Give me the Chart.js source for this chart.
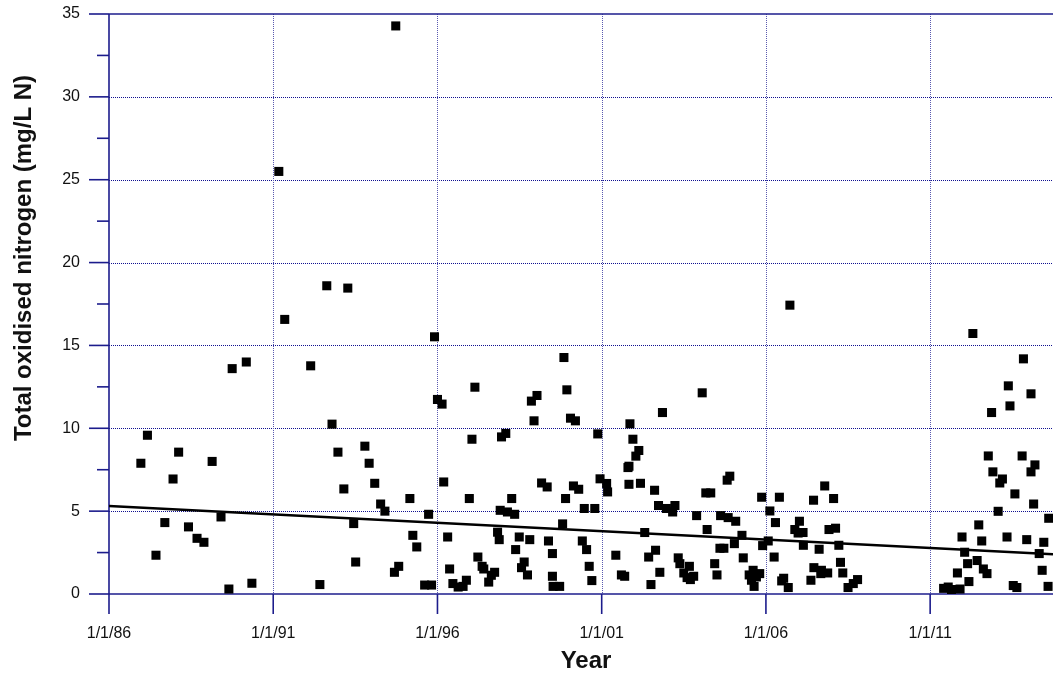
<!DOCTYPE html>
<html>
<head>
<meta charset="utf-8">
<title>Total oxidised nitrogen</title>
<script src="https://cdn.jsdelivr.net/npm/chart.js@4"></script>
<style>
  body { margin: 0; background: #fff; }
  #wrap { width: 1053px; height: 673px; }
</style>
</head>
<body>
<div id="wrap"><canvas id="myChart" width="1053" height="673"></canvas></div>
<script>
// sample dates (decimal years) and TON values
var sampleYears = [
  1986.97, 1987.17, 1987.43, 1987.70, 1987.95, 1988.12, 1988.42, 1988.68, 1988.89, 1989.14,
  1989.41, 1989.65, 1989.75, 1990.18, 1990.35, 1991.17, 1991.35, 1992.14, 1992.42, 1992.63,
  1992.79, 1992.97, 1993.15, 1993.27, 1993.45, 1993.51, 1993.79, 1993.92, 1994.09, 1994.27,
  1994.40, 1994.69, 1994.73, 1994.82, 1995.16, 1995.25, 1995.37, 1995.61, 1995.73, 1995.82,
  1995.91, 1996.00, 1996.14, 1996.19, 1996.31, 1996.37, 1996.47, 1996.63, 1996.78, 1996.88,
  1996.97, 1997.05, 1997.14, 1997.23, 1997.36, 1997.41, 1997.56, 1997.64, 1997.74, 1997.83,
  1997.88, 1997.91, 1997.95, 1998.08, 1998.13, 1998.26, 1998.35, 1998.38, 1998.49, 1998.56,
  1998.64, 1998.74, 1998.81, 1998.86, 1998.94, 1999.03, 1999.17, 1999.34, 1999.38, 1999.50,
  1999.50, 1999.52, 1999.72, 1999.81, 1999.85, 1999.90, 1999.94, 2000.05, 2000.14, 2000.20,
  2000.30, 2000.41, 2000.47, 2000.54, 2000.62, 2000.70, 2000.79, 2000.88, 2000.95, 2001.15,
  2001.18, 2001.43, 2001.60, 2001.70, 2001.80, 2001.83, 2001.83, 2001.86, 2001.95, 2002.04,
  2002.13, 2002.18, 2002.31, 2002.43, 2002.50, 2002.61, 2002.64, 2002.73, 2002.77, 2002.85,
  2002.97, 2003.16, 2003.23, 2003.33, 2003.38, 2003.50, 2003.60, 2003.67, 2003.70, 2003.80,
  2003.89, 2004.06, 2004.17, 2004.21, 2004.32, 2004.44, 2004.51, 2004.60, 2004.62, 2004.72,
  2004.82, 2004.85, 2004.90, 2005.04, 2005.08, 2005.27, 2005.31, 2005.49, 2005.56, 2005.61,
  2005.64, 2005.71, 2005.81, 2005.87, 2005.90, 2006.07, 2006.12, 2006.25, 2006.29, 2006.41,
  2006.48, 2006.54, 2006.68, 2006.73, 2006.88, 2006.98, 2007.02, 2007.13, 2007.14, 2007.37,
  2007.45, 2007.46, 2007.62, 2007.67, 2007.69, 2007.79, 2007.88, 2007.92, 2008.06, 2008.12,
  2008.22, 2008.27, 2008.34, 2008.50, 2008.66, 2008.79, 2011.41, 2011.55, 2011.65, 2011.83,
  2011.91, 2011.97, 2012.05, 2012.14, 2012.18, 2012.30, 2012.43, 2012.48, 2012.57, 2012.62,
  2012.73, 2012.77, 2012.87, 2012.91, 2013.07, 2013.12, 2013.20, 2013.34, 2013.38, 2013.43,
  2013.53, 2013.58, 2013.64, 2013.80, 2013.84, 2013.94, 2014.07, 2014.07, 2014.15, 2014.19,
  2014.32, 2014.41, 2014.46, 2014.59, 2014.61
];
var tonValues = [
  7.89, 9.58, 2.34, 4.31, 6.94, 8.56, 4.05, 3.36, 3.12, 8.00,
  4.65, 0.30, 13.6, 14.0, 0.65, 25.5, 16.57, 13.77, 0.57, 18.6,
  10.25, 8.56, 6.34, 18.46, 4.25, 1.93, 8.92, 7.89, 6.68, 5.43,
  5.00, 1.31, 34.28, 1.67, 5.76, 3.54, 2.84, 0.54, 4.81, 0.54,
  15.52, 11.74, 11.46, 6.76, 3.44, 1.51, 0.63, 0.42, 0.46, 0.83,
  5.76, 9.34, 12.48, 2.23, 1.67, 1.51, 0.72, 1.13, 1.31, 3.73,
  3.28, 5.05, 9.48, 9.69, 4.95, 5.76, 4.81, 2.68, 3.44, 1.59,
  1.93, 1.15, 3.28, 11.64, 10.45, 11.98, 6.70, 6.46, 3.20, 2.44,
  1.07, 0.46, 0.46, 4.23, 14.27, 5.76, 12.32, 10.61, 6.52, 10.45,
  6.32, 3.20, 5.16, 2.68, 1.67, 0.81, 5.16, 9.66, 6.95, 6.67,
  6.16, 2.34, 1.15, 1.07, 7.63, 7.71, 6.62, 10.27, 9.34, 8.32,
  8.66, 6.68, 3.71, 2.23, 0.57, 6.26, 2.64, 5.34, 1.31, 10.95,
  5.16, 4.95, 5.34, 2.18, 1.83, 1.27, 0.99, 1.67, 0.87, 1.07,
  4.73, 12.14, 6.10, 3.89, 6.10, 1.83, 1.15, 2.76, 4.73, 2.76,
  6.87, 4.61, 7.11, 3.04, 4.39, 3.54, 2.18, 1.15, 0.83, 1.43,
  0.46, 1.03, 1.23, 5.84, 2.92, 3.20, 5.01, 2.23, 4.31, 5.84,
  0.79, 0.95, 0.39, 17.43, 3.89, 3.68, 4.39, 3.71, 2.94, 0.83,
  5.66, 1.59, 2.70, 1.23, 1.43, 6.52, 1.27, 3.89, 5.76, 3.97,
  2.94, 1.91, 1.27, 0.39, 0.63, 0.87, 0.34, 0.42, 0.27, 1.27,
  0.30, 3.44, 2.52, 1.83, 0.75, 15.72, 2.02, 4.17, 3.20, 1.51,
  1.23, 8.33, 10.95, 7.37, 4.99, 6.70, 6.94, 3.44, 12.56, 11.35,
  0.51, 6.04, 0.39, 8.33, 14.19, 3.28, 12.08, 7.37, 5.43, 7.79,
  2.44, 1.43, 3.12, 0.46, 4.57
];

// linear trend, end points
var trendYears = [1986.0, 2014.74];
var trendValues = [5.31, 2.40];

// axis ticks
var tickYears = [1986, 1991, 1996, 2001, 2006, 2011];
var tickLabels = ["1/1/86", "1/1/91", "1/1/96", "1/1/01", "1/1/06", "1/1/11"];
var yMajor = [0, 5, 10, 15, 20, 25, 30, 35];
var yMinor = [2.5, 7.5, 12.5, 17.5, 22.5, 27.5, 32.5];

var xTitle = "Year";
var yTitle = "Total oxidised nitrogen (mg/L N)";

var axisBlue = "#1c1c8c";
var fontFam = "Liberation Sans, Arial, Helvetica, sans-serif";

// grid, axis lines and tick marks in the old-style plot look
var framePlugin = {
  id: "frame",
  beforeDatasetsDraw: function (chart) {
    var c = chart.ctx;
    var a = chart.chartArea;
    var xs = chart.scales.x;
    var ys = chart.scales.y;
    function seg(x1, y1, x2, y2) {
      c.beginPath();
      c.moveTo(x1, y1);
      c.lineTo(x2, y2);
      c.stroke();
    }
    c.save();
    // dotted grid
    c.strokeStyle = "#101090";
    c.lineWidth = 1;
    c.setLineDash([1, 1]);
    yMajor.forEach(function (v) {
      if (v > 0 && v < 35) {
        var py = Math.round(ys.getPixelForValue(v)) + 0.5;
        seg(a.left, py, a.right, py);
      }
    });
    c.strokeStyle = "#5a5ab0";
    tickYears.forEach(function (v) {
      if (v > xs.min) {
        var px = Math.round(xs.getPixelForValue(v)) + 0.5;
        seg(px, a.top, px, a.bottom);
      }
    });
    c.setLineDash([]);

    // frame
    c.strokeStyle = axisBlue;
    c.lineWidth = 1.6;
    seg(a.left, a.top, a.left, a.bottom);
    seg(a.left, a.bottom, a.right, a.bottom);
    seg(a.left, a.top, a.right, a.top);

    // y ticks
    yMajor.forEach(function (v) {
      var py = ys.getPixelForValue(v);
      seg(a.left - 20, py, a.left, py);
    });
    yMinor.forEach(function (v) {
      var py = ys.getPixelForValue(v);
      seg(a.left - 12, py, a.left, py);
    });
    // x ticks
    tickYears.forEach(function (v) {
      var px = xs.getPixelForValue(v);
      seg(px, a.bottom, px, a.bottom + 20);
    });
    c.restore();
  },
  afterDraw: function (chart) {
    var c = chart.ctx;
    c.save();
    c.fillStyle = "#111";
    c.font = "bold 24px " + fontFam;
    c.textAlign = "center";
    c.textBaseline = "alphabetic";
    c.fillText(xTitle, 586, 668);
    c.translate(31, 258);
    c.rotate(-Math.PI / 2);
    c.fillText(yTitle, 0, 0);
    c.restore();
  }
};

var points = sampleYears.map(function (yr, i) {
  return { x: yr, y: tonValues[i] };
});
var trend = trendYears.map(function (yr, i) {
  return { x: yr, y: trendValues[i] };
});

var ctx = document.getElementById("myChart").getContext("2d");
var chart = new Chart(ctx, {
  type: "scatter",
  data: {
    datasets: [
      {
        label: "TON",
        data: points,
        pointStyle: "rect",
        pointRadius: 6.4,
        pointBorderWidth: 0,
        backgroundColor: "#000",
        borderColor: "#000",
        order: 1
      },
      {
        label: "Trend",
        type: "line",
        data: trend,
        showLine: true,
        pointRadius: 0,
        borderColor: "#000",
        borderWidth: 2.5,
        fill: false,
        order: 0
      }
    ]
  },
  options: {
    responsive: false,
    animation: false,
    layout: { autoPadding: false, padding: { top: 14, left: 0, right: 0, bottom: 0 } },
    plugins: {
      legend: { display: false },
      tooltip: { enabled: false }
    },
    scales: {
      x: {
        type: "linear",
        min: 1986,
        max: 2014.74,
        grid: { display: false, drawTicks: false },
        border: { display: false },
        afterBuildTicks: function (scale) {
          scale.ticks = tickYears.map(function (v) { return { value: v }; });
        },
        afterFit: function (scale) {
          scale.height = 79;
          scale.paddingLeft = 0;
          scale.paddingRight = 0;
        },
        ticks: {
          autoSkip: false,
          maxRotation: 0,
          padding: 30,
          color: "#111",
          font: { family: fontFam, size: 16 },
          callback: function (value) {
            var i = tickYears.indexOf(value);
            return i >= 0 ? tickLabels[i] : "";
          }
        }
      },
      y: {
        min: 0,
        max: 35,
        grid: { display: false, drawTicks: false },
        border: { display: false },
        afterBuildTicks: function (scale) {
          scale.ticks = yMajor.map(function (v) { return { value: v }; });
        },
        afterFit: function (scale) {
          scale.width = 109;
          scale.paddingTop = 0;
          scale.paddingBottom = 0;
        },
        ticks: {
          padding: 29,
          color: "#111",
          font: { family: fontFam, size: 16 }
        }
      }
    }
  },
  plugins: [framePlugin]
});
</script>
</body>
</html>
